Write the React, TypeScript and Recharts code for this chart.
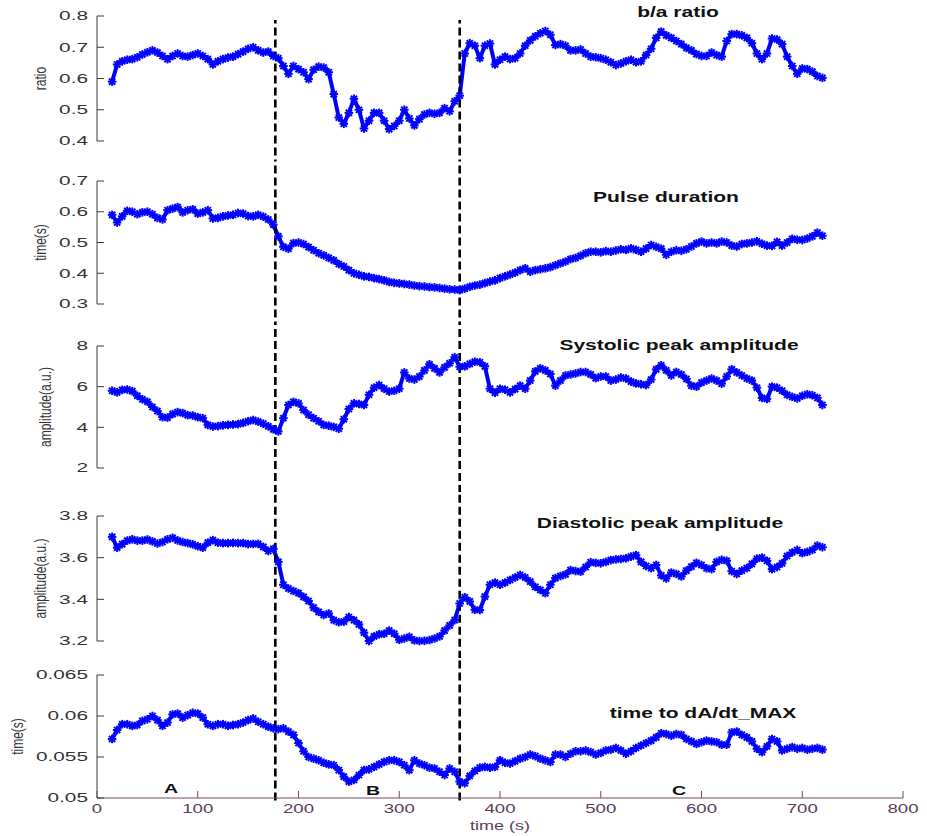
import React from 'react';
import { LineChart, Line, XAxis, YAxis, ReferenceLine } from 'recharts';

const TIME = [
  15, 20, 25, 30, 35, 40, 45, 50, 55, 60,
  65, 70, 75, 80, 85, 90, 95, 100, 105, 110,
  115, 120, 125, 130, 135, 140, 145, 150, 155, 160,
  165, 170, 175, 180, 185, 190, 195, 200, 205, 210,
  215, 220, 225, 230, 235, 240, 245, 250, 255, 260,
  265, 270, 275, 280, 285, 290, 295, 300, 305, 310,
  315, 320, 325, 330, 335, 340, 345, 350, 355, 360,
  365, 370, 375, 380, 385, 390, 395, 400, 405, 410,
  415, 420, 425, 430, 435, 440, 445, 450, 455, 460,
  465, 470, 475, 480, 485, 490, 495, 500, 505, 510,
  515, 520, 525, 530, 535, 540, 545, 550, 555, 560,
  565, 570, 575, 580, 585, 590, 595, 600, 605, 610,
  615, 620, 625, 630, 635, 640, 645, 650, 655, 660,
  665, 670, 675, 680, 685, 690, 695, 700, 705, 710,
  715, 720,
];

const RATIO = [
  0.59, 0.645, 0.655, 0.66, 0.662, 0.668, 0.677, 0.684, 0.69, 0.683,
  0.672, 0.662, 0.672, 0.68, 0.672, 0.67, 0.675, 0.68, 0.672, 0.662,
  0.645, 0.655, 0.662, 0.667, 0.67, 0.678, 0.686, 0.695, 0.7, 0.69,
  0.683, 0.686, 0.672, 0.665, 0.64, 0.615, 0.64, 0.63, 0.62, 0.598,
  0.628, 0.638, 0.635, 0.62, 0.55, 0.475, 0.455, 0.49, 0.535, 0.5,
  0.44, 0.465, 0.49, 0.49, 0.465, 0.438, 0.448, 0.465, 0.5, 0.472,
  0.45, 0.47, 0.485, 0.49, 0.487, 0.49, 0.505, 0.495, 0.527, 0.545,
  0.68, 0.713, 0.705, 0.665, 0.705, 0.712, 0.645, 0.66, 0.67, 0.662,
  0.665, 0.68, 0.705, 0.722, 0.735, 0.745, 0.752, 0.74, 0.707, 0.71,
  0.705, 0.69, 0.69, 0.693, 0.68, 0.67, 0.668, 0.665, 0.66, 0.652,
  0.643, 0.648, 0.655, 0.66, 0.652, 0.655, 0.675, 0.695, 0.73, 0.75,
  0.738, 0.73, 0.72, 0.71, 0.698, 0.69, 0.678, 0.672, 0.672, 0.683,
  0.675, 0.67, 0.72, 0.742, 0.742, 0.738, 0.73, 0.713, 0.68, 0.662,
  0.68, 0.728, 0.725, 0.71, 0.67, 0.64, 0.615, 0.632, 0.63, 0.622,
  0.608, 0.602,
];

const PULSE = [
  0.59, 0.565, 0.585, 0.603, 0.6, 0.592, 0.598, 0.6, 0.592, 0.58,
  0.575, 0.605, 0.61, 0.615, 0.598, 0.605, 0.608, 0.594, 0.598, 0.605,
  0.578, 0.58, 0.585, 0.588, 0.59, 0.596, 0.594, 0.586, 0.585, 0.59,
  0.584, 0.575, 0.558, 0.52, 0.486, 0.48, 0.498, 0.5, 0.495, 0.485,
  0.475, 0.465, 0.458, 0.45, 0.442, 0.43, 0.422, 0.41, 0.4, 0.395,
  0.39, 0.388, 0.384, 0.381, 0.377, 0.372, 0.369, 0.367, 0.365, 0.363,
  0.36, 0.358, 0.357, 0.355, 0.354, 0.352, 0.35, 0.348, 0.347, 0.345,
  0.35, 0.356, 0.36, 0.363, 0.368, 0.373, 0.377, 0.384, 0.39, 0.396,
  0.402, 0.41, 0.416, 0.405, 0.41, 0.413, 0.416, 0.42, 0.426, 0.432,
  0.438, 0.446, 0.45, 0.457, 0.465, 0.47, 0.47, 0.468, 0.472, 0.47,
  0.474, 0.478, 0.476, 0.481, 0.476, 0.47, 0.48, 0.492, 0.486, 0.48,
  0.46, 0.47, 0.475, 0.473, 0.478, 0.487, 0.497, 0.503, 0.497, 0.5,
  0.497, 0.503, 0.5, 0.49, 0.487, 0.495, 0.497, 0.5, 0.504, 0.496,
  0.49, 0.489, 0.502, 0.49, 0.5, 0.512, 0.509, 0.508, 0.513, 0.52,
  0.532, 0.522,
];

const SYSTOLIC = [
  5.8, 5.72, 5.84, 5.86, 5.78, 5.55, 5.38, 5.26, 5.0, 4.8,
  4.5, 4.48, 4.65, 4.75, 4.7, 4.6, 4.58, 4.5, 4.45, 4.12,
  4.04, 4.06, 4.1, 4.12, 4.14, 4.16, 4.22, 4.3, 4.36, 4.28,
  4.18, 4.05, 3.9, 3.8, 4.45, 5.1, 5.25, 5.18, 4.85, 4.62,
  4.45, 4.3, 4.12, 4.08, 4.02, 3.93, 4.4, 4.9, 5.18, 5.15,
  5.1, 5.6, 5.95, 6.08, 5.9, 5.76, 5.8, 5.9, 6.7, 6.4,
  6.35, 6.5, 6.8, 7.1, 6.9, 6.7, 6.95, 7.15, 7.45, 6.98,
  7.0, 7.12, 7.23, 7.2, 7.0, 5.9, 5.7, 5.9, 5.85, 5.72,
  5.88, 6.05, 5.9, 6.3, 6.75, 6.9, 6.8, 6.62, 6.05, 6.3,
  6.55, 6.6, 6.65, 6.72, 6.72, 6.6, 6.42, 6.5, 6.5, 6.3,
  6.35, 6.45, 6.4, 6.25, 6.16, 6.12, 6.08, 6.35, 6.85, 7.05,
  6.8, 6.55, 6.72, 6.6, 6.38, 6.05, 6.0, 6.2, 6.3, 6.4,
  6.3, 6.15, 6.5, 6.85, 6.7, 6.55, 6.4, 6.3, 5.95, 5.45,
  5.4, 6.0, 5.95, 5.8, 5.6, 5.5, 5.42, 5.55, 5.63, 5.58,
  5.45, 5.1,
];

const DIASTOLIC = [
  3.7, 3.648, 3.665, 3.682, 3.688, 3.682, 3.682, 3.687, 3.678, 3.668,
  3.675, 3.688, 3.695, 3.683, 3.675, 3.67, 3.664, 3.655, 3.648, 3.672,
  3.684, 3.672, 3.67, 3.67, 3.671, 3.67, 3.67, 3.665, 3.666, 3.666,
  3.652, 3.632, 3.642, 3.58, 3.47, 3.452, 3.44, 3.43, 3.412, 3.392,
  3.36, 3.34, 3.325, 3.332, 3.3, 3.29, 3.293, 3.315, 3.3, 3.28,
  3.24, 3.2, 3.222, 3.232, 3.235, 3.25, 3.235, 3.206, 3.212, 3.22,
  3.203, 3.2, 3.201, 3.205, 3.212, 3.222, 3.25, 3.275, 3.3, 3.38,
  3.41, 3.39, 3.35, 3.349, 3.413, 3.47, 3.48, 3.47, 3.48, 3.493,
  3.505, 3.517, 3.505, 3.485, 3.46, 3.445, 3.43, 3.47, 3.502, 3.512,
  3.52, 3.54, 3.536, 3.533, 3.555, 3.578, 3.575, 3.573, 3.58, 3.588,
  3.592, 3.594, 3.597, 3.605, 3.612, 3.58, 3.56, 3.55, 3.565, 3.515,
  3.5, 3.528, 3.522, 3.51, 3.538, 3.557, 3.575, 3.565, 3.549, 3.545,
  3.58, 3.59, 3.585, 3.535, 3.522, 3.538, 3.55, 3.57, 3.595, 3.6,
  3.585, 3.545, 3.555, 3.573, 3.608, 3.625, 3.637, 3.622, 3.628, 3.637,
  3.658, 3.65,
];

const DADT = [
  0.0572, 0.0583, 0.059, 0.059, 0.0588, 0.0589, 0.0594, 0.0596, 0.06, 0.0595,
  0.0588, 0.0592, 0.0602, 0.0603, 0.0598, 0.0601, 0.0604, 0.0603, 0.0598, 0.059,
  0.0588, 0.059, 0.059, 0.0588, 0.0589, 0.059, 0.0592, 0.0595, 0.0597, 0.0593,
  0.059, 0.0587, 0.0585, 0.0584, 0.0585, 0.0581, 0.0577, 0.0567, 0.0557, 0.055,
  0.0548, 0.0546, 0.0543, 0.0541, 0.054, 0.0534, 0.0526, 0.052, 0.0522, 0.0528,
  0.0534, 0.0535, 0.0538, 0.0541, 0.0544, 0.0546, 0.0546, 0.0544, 0.054, 0.0534,
  0.0546, 0.0542, 0.054, 0.0537, 0.0536, 0.0532, 0.0528, 0.0536, 0.0532, 0.052,
  0.0518, 0.0527, 0.0533, 0.0537, 0.0538, 0.0537, 0.0538, 0.0546, 0.0543, 0.0542,
  0.0545, 0.0548, 0.055, 0.0553, 0.0551, 0.0548, 0.0546, 0.0544, 0.0553, 0.0553,
  0.055, 0.0554, 0.0557, 0.0557, 0.0558, 0.0556, 0.0553, 0.0555, 0.0558, 0.0559,
  0.0561, 0.0558, 0.0554, 0.0557, 0.0561, 0.0564, 0.0567, 0.057, 0.0574, 0.0579,
  0.0578, 0.0576, 0.0578, 0.0577, 0.0572, 0.0569, 0.0566, 0.0568, 0.057, 0.0569,
  0.0568, 0.0565, 0.0565, 0.058, 0.0581, 0.0577, 0.0574, 0.0569, 0.056, 0.0556,
  0.0563, 0.0572, 0.0569, 0.0558, 0.056, 0.0562, 0.056, 0.0561, 0.0559, 0.056,
  0.0561, 0.0559,
];

const X_TICKS = [0, 100, 200, 300, 400, 500, 600, 700, 800];
const RATIO_TICKS = [0.4, 0.5, 0.6, 0.7, 0.8];
const PULSE_TICKS = [0.3, 0.4, 0.5, 0.6, 0.7];
const SYS_TICKS = [2, 4, 6, 8];
const DIA_TICKS = [3.2, 3.4, 3.6, 3.8];
const DADT_TICKS = [0.05, 0.055, 0.06, 0.065];
const BOUNDARIES = [177, 360];

const DATA = TIME.map((t, i) => ({
  t,
  ratio: RATIO[i],
  pulse: PULSE[i],
  sys: SYSTOLIC[i],
  dia: DIASTOLIC[i],
  dadt: DADT[i],
}));

const FONT = '"Liberation Sans", Arial, Helvetica, sans-serif';
const BLUE = '#0000ff';
const AXIS_GRAY = '#3a3a3a';
const AXIS_PURPLE = '#6a4b6a';

const Star = (props: any) => {
  const { cx, cy, index } = props;
  if (cx == null || cy == null) return null;
  const r = 4.3;
  const d = 3.1;
  return (
    <g key={`st-${index}`} stroke={BLUE} strokeWidth={2}>
      <line x1={cx - r} y1={cy} x2={cx + r} y2={cy} />
      <line x1={cx} y1={cy - r} x2={cx} y2={cy + r} />
      <line x1={cx - d} y1={cy - d} x2={cx + d} y2={cy + d} />
      <line x1={cx - d} y1={cy + d} x2={cx + d} y2={cy - d} />
    </g>
  );
};

const YTick = (props: any) => {
  const { x, y, payload } = props;
  return (
    <g>
      <line x1={x} x2={x + 7} y1={y} y2={y} stroke={AXIS_GRAY} strokeWidth={1} />
      <text
        transform={`translate(${x - 9},${y}) scale(1.6,1)`}
        textAnchor="end"
        dominantBaseline="central"
        fontSize={13}
        fontFamily={FONT}
        fill="#333"
      >
        {String(payload.value)}
      </text>
    </g>
  );
};

const XTick = (props: any) => {
  const { x, y, payload } = props;
  return (
    <g>
      <line x1={x} x2={x} y1={y} y2={y - 7} stroke={AXIS_PURPLE} strokeWidth={1} />
      <text
        transform={`translate(${x},${y + 11}) scale(1.55,1)`}
        textAnchor="middle"
        dominantBaseline="central"
        fontSize={12}
        fontFamily={FONT}
        fill="#5a3d5a"
      >
        {String(payload.value)}
      </text>
    </g>
  );
};

const YLabel = (props: any) => {
  const { viewBox, text, cx } = props;
  if (!viewBox) return null;
  const cy = viewBox.y + viewBox.height / 2;
  return (
    <text
      transform={`translate(${cx},${cy}) scale(1.4,1) rotate(-90)`}
      textAnchor="middle"
      dominantBaseline="central"
      fontSize={12}
      fontFamily={FONT}
      fill="#333"
    >
      {text}
    </text>
  );
};

const XLabel = (props: any) => {
  const { viewBox, text } = props;
  if (!viewBox) return null;
  const cx = viewBox.x + viewBox.width / 2;
  return (
    <text
      transform={`translate(${cx},${viewBox.y + 28}) scale(1.5,1)`}
      textAnchor="middle"
      dominantBaseline="central"
      fontSize={12}
      fontFamily={FONT}
      fill="#5a3d5a"
    >
      {text}
    </text>
  );
};

type PanelProps = {
  top: number;
  height: number;
  mTop: number;
  mBottom: number;
  dataKey: string;
  domain: [number, number];
  ticks: number[];
  yLabel: string;
  labelX: number;
  seg: [number, number];
  showX?: boolean;
};

const Panel = (p: PanelProps) => (
  <div style={{ position: 'absolute', left: 0, top: p.top, width: 927, height: p.height }}>
    <LineChart
      width={927}
      height={p.height}
      data={DATA}
      margin={{ top: p.mTop, right: 24, bottom: p.mBottom, left: 0 }}
    >
      {p.showX ? (
        <XAxis
          type="number"
          dataKey="t"
          domain={[0, 800]}
          ticks={X_TICKS}
          interval={0}
          height={36}
          tickSize={0}
          tickMargin={0}
          tickLine={false}
          axisLine={{ stroke: AXIS_PURPLE, strokeWidth: 1 }}
          tick={<XTick />}
          label={<XLabel text="time (s)" />}
        />
      ) : (
        <XAxis type="number" dataKey="t" domain={[0, 800]} hide />
      )}
      <YAxis
        type="number"
        domain={p.domain}
        ticks={p.ticks}
        interval={0}
        width={97}
        tickSize={0}
        tickMargin={0}
        tickLine={false}
        axisLine={{ stroke: AXIS_GRAY, strokeWidth: 1 }}
        tick={<YTick />}
        label={<YLabel text={p.yLabel} cx={p.labelX} />}
      />
      <Line
        type="linear"
        dataKey={p.dataKey}
        stroke={BLUE}
        strokeWidth={4}
        strokeLinejoin="round"
        dot={(props: any) => <Star {...props} key={`st-${props.index}`} />}
        activeDot={false}
        isAnimationActive={false}
      />
      {BOUNDARIES.map((b) => (
        <ReferenceLine
          key={`b-${b}`}
          segment={[
            { x: b, y: p.seg[0] },
            { x: b, y: p.seg[1] },
          ]}
          ifOverflow="visible"
          stroke="#000"
          strokeWidth={2.6}
          strokeDasharray="8 4"
        />
      ))}
    </LineChart>
  </div>
);

const TITLES = [
  { text: 'b/a ratio', x: 678, y: 12 },
  { text: 'Pulse duration', x: 666, y: 197 },
  { text: 'Systolic peak amplitude', x: 679, y: 345 },
  { text: 'Diastolic peak amplitude', x: 660, y: 523 },
  { text: 'time to dA/dt_MAX', x: 703, y: 713 },
];

const REGIONS = [
  { text: 'A', x: 171, y: 788 },
  { text: 'B', x: 373, y: 790 },
  { text: 'C', x: 679, y: 790 },
];

const Annot = ({ text, x, y, size }: { text: string; x: number; y: number; size: number }) => (
  <div
    style={{
      position: 'absolute',
      left: x,
      top: y,
      transform: 'translate(-50%, -50%) scaleX(1.5)',
      fontFamily: FONT,
      fontWeight: 'bold',
      fontSize: size,
      color: '#111',
      whiteSpace: 'nowrap',
      lineHeight: 1,
    }}
  >
    {text}
  </div>
);

export default function App() {
  return (
    <div
      style={{
        position: 'absolute',
        left: 0,
        top: 0,
        width: 927,
        height: 836,
        background: '#fff',
        overflow: 'hidden',
      }}
    >
      <Panel top={0} height={161} mTop={16} mBottom={20} dataKey="ratio" domain={[0.4, 0.8]} ticks={RATIO_TICKS} yLabel="ratio" labelX={40} seg={[0.2, 0.787]} />
      <Panel top={161} height={164} mTop={20} mBottom={21} dataKey="pulse" domain={[0.3, 0.7]} ticks={PULSE_TICKS} yLabel="time(s)" labelX={40} seg={[0.1, 0.9]} />
      <Panel top={325} height={167} mTop={21} mBottom={24} dataKey="sys" domain={[2, 8]} ticks={SYS_TICKS} yLabel="amplitude(a.u.)" labelX={45} seg={[-1, 11]} />
      <Panel top={492} height={166} mTop={24} mBottom={17} dataKey="dia" domain={[3.2, 3.8]} ticks={DIA_TICKS} yLabel="amplitude(a.u.)" labelX={40} seg={[3.0, 4.0]} />
      <Panel top={658} height={178} mTop={17} mBottom={2} dataKey="dadt" domain={[0.05, 0.065]} ticks={DADT_TICKS} yLabel="time(s)" labelX={17} seg={[0.0497, 0.07]} showX />
      {TITLES.map((t) => (
        <Annot key={t.text} text={t.text} x={t.x} y={t.y} size={14} />
      ))}
      {REGIONS.map((r) => (
        <Annot key={r.text} text={r.text} x={r.x} y={r.y} size={13} />
      ))}
    </div>
  );
}
